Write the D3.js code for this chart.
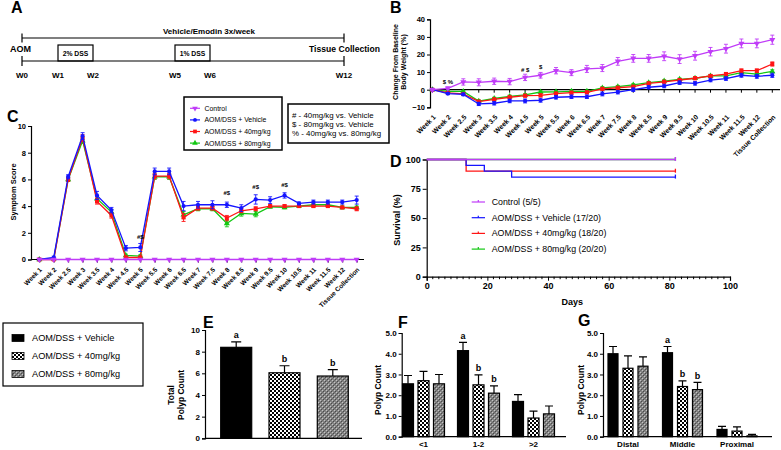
<!DOCTYPE html>
<html><head><meta charset="utf-8">
<script src="https://cdn.jsdelivr.net/npm/d3@7"></script>
<style>
body{margin:0;background:#fff;}
svg{display:block;font-family:"Liberation Sans",Arial,sans-serif;}
</style></head><body>
<svg id="fig" width="781" height="450"></svg>
<script>
// ---- data ----
const timelineWeeks = [0, 1, 2, 5, 6, 12];
const timelineLabels = ["W0", "W1", "W2", "W5", "W6", "W12"];
const dssStart = [1, 5], dssEnd = [2, 6], dssLabel = ["2% DSS", "1% DSS"];

const weeks = ["Week 1","Week 2","Week 2.5","Week 3","Week 3.5","Week 4","Week 4.5","Week 5","Week 5.5","Week 6","Week 6.5","Week 7","Week 7.5","Week 8","Week 8.5","Week 9","Week 9.5","Week 10","Week 10.5","Week 11","Week 11.5","Week 12","Tissue Collection"];
const groupNames = ["Control", "AOM/DSS + Vehicle", "AOM/DSS + 40mg/kg", "AOM/DSS + 80mg/kg"];

// body weight change (%)
const wtControl = [0,0.8,4.4,4.2,4.8,4.6,7.0,8.2,10.8,9.7,11.8,12.3,16.1,17.8,17.8,19.0,17.4,19.3,21.6,23.3,26.3,26.3,28.4];
const wtControlErr = [0.5,0.8,1.8,2.0,1.8,1.8,1.8,1.6,1.8,1.7,2.0,2.0,2.2,2.2,2.2,2.5,2.5,2.5,2.4,2.5,2.5,2.5,2.6];
const wtVehicle = [0,-2.2,-2.7,-8.1,-7.7,-6.4,-6.4,-6.0,-4.3,-4.0,-4.0,-2.4,-1.4,0.0,1.4,2.1,4.0,3.6,5.5,6.3,8.2,7.6,8.2];
const wtVehicleErr = [0,0.6,0.7,0.9,1.0,1.0,1.1,1.1,1.0,1.0,1.0,1.1,1.0,1.0,1.0,1.0,1.0,1.0,1.0,1.0,1.1,1.1,1.2];
const wt40 = [0,-1.8,-2.4,-6.8,-5.5,-4.3,-3.4,-3.2,-2.2,-1.7,-1.5,0.5,1.1,1.7,3.6,4.5,5.5,6.5,7.8,8.9,10.8,10.8,14.6];
const wt40Err = [0,0.5,0.6,0.8,0.8,0.8,0.8,0.9,0.8,0.8,0.8,0.8,0.8,0.8,0.8,0.8,0.8,0.8,0.9,0.9,1.0,1.0,1.2];
const wt80 = [0,-1.0,-1.0,-6.5,-5.0,-3.8,-3.0,-1.3,-1.2,-0.9,-0.9,1.0,1.7,2.7,4.0,4.9,5.9,6.5,7.8,7.8,9.7,8.9,10.4];
const wt80Err = [0,0.5,0.5,0.7,0.7,0.7,0.7,0.7,0.7,0.7,0.7,0.7,0.7,0.7,0.7,0.7,0.7,0.7,0.8,0.8,0.8,0.8,0.9];
const wtNotes = ["$ %", "# $", "$"];
const wtNoteWeek = ["Week 2", "Week 4.5", "Week 5"];
const wtNoteValue = [3.2, 10.3, 11.5];

// symptom score
const sxControl = [0,0,0,0,0,0,0,0,0,0,0,0,0,0,0,0,0,0,0,0,0,0,0];
const sxControlErr = [0,0,0,0,0,0,0,0,0,0,0,0,0,0,0,0,0,0,0,0,0,0,0];
const sxVehicle = [0,0.15,6.2,9.25,4.8,3.7,0.85,0.9,6.6,6.6,4.0,4.1,4.1,4.1,3.85,4.5,4.45,4.8,4.2,4.3,4.3,4.3,4.45];
const sxVehicleErr = [0,0.1,0.15,0.25,0.3,0.2,0.2,0.3,0.25,0.25,0.35,0.25,0.3,0.2,0.25,0.35,0.25,0.2,0.1,0.15,0.15,0.15,0.3];
const sx40 = [0,0,6.0,9.1,4.35,3.3,0.15,0.15,6.25,6.25,3.15,3.85,3.85,3.1,3.65,3.8,4.0,4.0,4.0,4.0,4.0,3.9,3.8];
const sx40Err = [0,0.05,0.15,0.25,0.2,0.2,0.1,0.1,0.2,0.2,0.3,0.15,0.15,0.2,0.15,0.15,0.1,0.1,0.1,0.1,0.1,0.1,0.15];
const sx80 = [0,0.05,6.0,8.9,4.55,3.55,0.3,0.25,6.2,6.2,3.35,3.8,3.8,2.7,3.45,3.4,3.95,3.9,4.0,4.1,4.1,3.9,3.9];
const sx80Err = [0,0.05,0.15,0.2,0.2,0.2,0.1,0.1,0.2,0.2,0.25,0.15,0.15,0.25,0.2,0.2,0.1,0.1,0.1,0.1,0.1,0.1,0.1];
const sxNoteWeek = ["Week 5", "Week 8", "Week 9", "Week 10"];
const sxNoteValue = [1.5, 4.8, 5.25, 5.4];
const statNotes = ["# - 40mg/kg vs. Vehicle", "$ - 80mg/kg vs. Vehicle", "% - 40mg/kg vs. 80mg/kg"];

// survival
const survLabels = ["Control (5/5)", "AOM/DSS + Vehicle (17/20)", "AOM/DSS + 40mg/kg (18/20)", "AOM/DSS + 80mg/kg (20/20)"];
const survDaysControl = [0, 82], survControl = [100, 100];
const survDaysVehicle = [0, 13, 19, 28, 82], survVehicle = [100, 95, 90, 85, 85];
const survDays40 = [0, 13, 82], surv40 = [100, 90, 90];
const survDays80 = [0, 82], surv80 = [100, 100];

// polyps
const polypGroups = ["AOM/DSS + Vehicle", "AOM/DSS + 40mg/kg", "AOM/DSS + 80mg/kg"];
const totalPolyp = [8.4, 6.05, 5.75];
const totalPolypErr = [0.5, 0.65, 0.6];
const totalLetters = ["a", "b", "b"];
const sizeCats = ["<1", "1-2", ">2"];
const sizeVehicle = [2.55, 4.15, 1.7], sizeVehicleErr = [0.4, 0.4, 0.33];
const size40 = [2.7, 2.5, 0.9], size40Err = [0.45, 0.48, 0.33];
const size80 = [2.55, 2.1, 1.1], size80Err = [0.45, 0.35, 0.38];
const sizeLetters = [["", "", ""], ["a", "b", "b"], ["", "", ""]];
const locCats = ["Distal", "Middle", "Proximal"];
const locVehicle = [4.0, 4.05, 0.35], locVehicleErr = [0.35, 0.3, 0.15];
const loc40 = [3.3, 2.42, 0.27], loc40Err = [0.6, 0.27, 0.2];
const loc80 = [3.4, 2.27, 0.04], loc80Err = [0.45, 0.35, 0.07];
const locLetters = [["", "", ""], ["a", "b", "b"], ["", "", ""]];

// ---- styles ----
const colors = ["#c03cf8", "#1515ff", "#ff1515", "#12c812"];
const symbols = [d3.symbolTriangle, d3.symbolCircle, d3.symbolSquare, d3.symbolTriangle];
const symRotate = [180, 0, 0, 0];
const barFills = ["#000", "url(#checker)", "url(#greydots)"];

const svg = d3.select("#fig");

// patterns
const defs = svg.append("defs");
const pc = defs.append("pattern").attr("id", "checker").attr("width", 4).attr("height", 4).attr("patternUnits", "userSpaceOnUse");
pc.append("rect").attr("width", 4).attr("height", 4).attr("fill", "#fff");
pc.append("rect").attr("width", 2).attr("height", 2).attr("fill", "#000");
pc.append("rect").attr("x", 2).attr("y", 2).attr("width", 2).attr("height", 2).attr("fill", "#000");
const pg = defs.append("pattern").attr("id", "greydots").attr("width", 4).attr("height", 4).attr("patternUnits", "userSpaceOnUse");
pg.append("rect").attr("width", 4).attr("height", 4).attr("fill", "#858585");
[[0,0,"#c4c4c4"],[2,2,"#c4c4c4"],[1,1,"#4a4a4a"],[3,3,"#4a4a4a"],[2,0,"#6a6a6a"],[0,2,"#6a6a6a"]].forEach(p =>
  pg.append("rect").attr("x", p[0]).attr("y", p[1]).attr("width", 1).attr("height", 1).attr("fill", p[2]));

function panelLetter(t, x, y) {
  svg.append("text").attr("x", x).attr("y", y).text(t)
    .attr("font-size", 16).attr("font-weight", "bold");
}
function styleAxis(g, size) {
  g.attr("font-family", null).attr("font-size", size).attr("font-weight", "bold");
  g.selectAll(".domain").attr("stroke-width", 1.2);
  g.selectAll(".tick line").attr("stroke-width", 1);
  return g;
}
function yLabel(lines, x, y, size) {
  lines.forEach((l, i) => {
    svg.append("text").attr("transform", `translate(${x + i * size * 1.15},${y}) rotate(-90)`)
      .attr("text-anchor", "middle").attr("font-size", size).attr("font-weight", "bold").text(l);
  });
}

// ---------------- Panel A ----------------
panelLetter("A", 11, 13);
const xA = d3.scaleLinear().domain(timelineWeeks).range([22, 58, 93, 175, 210, 344]);
const gA = svg.append("g").attr("stroke", "#000").attr("stroke-width", 1.2).attr("fill", "none");
gA.append("line").attr("x1", xA(0)).attr("x2", xA(12)).attr("y1", 61).attr("y2", 61);
gA.append("line").attr("x1", xA(0)).attr("x2", xA(12)).attr("y1", 38).attr("y2", 38);
[0, 12].forEach(w => {
  gA.append("line").attr("x1", xA(w)).attr("x2", xA(w)).attr("y1", 56).attr("y2", 66);
  gA.append("line").attr("x1", xA(w)).attr("x2", xA(w)).attr("y1", 33.5).attr("y2", 42.5);
});
dssStart.forEach((s, i) => {
  gA.append("rect").attr("x", xA(s)).attr("y", 45).attr("width", xA(dssEnd[i]) - xA(s)).attr("height", 16);
  svg.append("text").attr("x", (xA(s) + xA(dssEnd[i])) / 2).attr("y", 55.5).attr("text-anchor", "middle")
    .attr("font-size", 6.8).attr("font-weight", "bold").text(dssLabel[i]);
});
timelineWeeks.forEach((w, i) => {
  svg.append("text").attr("x", xA(w)).attr("y", 78).attr("text-anchor", "middle")
    .attr("font-size", 8).attr("font-weight", "bold").text(timelineLabels[i]);
});
svg.append("text").attr("x", 209).attr("y", 34).attr("text-anchor", "middle").attr("font-size", 8).attr("font-weight", "bold").text("Vehicle/Emodin 3x/week");
svg.append("text").attr("x", 10).attr("y", 52).attr("font-size", 9).attr("font-weight", "bold").text("AOM");
svg.append("text").attr("x", 380).attr("y", 52).attr("text-anchor", "end").attr("font-size", 8.6).attr("font-weight", "bold").text("Tissue Collection");

// ---------------- line helpers ----------------
function drawSeries(g, x, y, series, errW) {
  series.forEach(s => {
    const pts = s.vals.map((v, i) => ({ x: x(weeks[i]), v: v, e: s.errs[i] }));
    g.append("g").selectAll("path").data(pts.filter(d => d.e > 0)).join("path")
      .attr("d", d => {
        const y1 = y(d.v + d.e), y2 = y(d.v - d.e);
        return `M${d.x},${y1}V${y2}M${d.x - errW},${y1}h${2 * errW}M${d.x - errW},${y2}h${2 * errW}`;
      })
      .attr("stroke", s.color).attr("stroke-width", 0.9).attr("fill", "none");
    g.append("path").datum(pts)
      .attr("d", d3.line().x(d => d.x).y(d => y(d.v)))
      .attr("stroke", s.color).attr("stroke-width", 1.3).attr("fill", "none");
    g.append("g").selectAll("path").data(pts).join("path")
      .attr("transform", d => `translate(${d.x},${y(d.v)}) rotate(${s.rot})`)
      .attr("d", d3.symbol().type(s.sym).size(s.size))
      .attr("fill", s.color);
  });
}
function makeSeries(vals, errs) {
  // drawing order: 80, 40, vehicle, control
  return [3, 2, 1, 0].map(k => ({
    vals: vals[k], errs: errs[k], color: colors[k], sym: symbols[k], rot: symRotate[k],
    size: k === 1 ? 14 : 16
  }));
}

// ---------------- Panel B ----------------
panelLetter("B", 390, 13);
const xB = d3.scalePoint().domain(weeks).range([432.4, 772.3]);
const yB = d3.scaleLinear().domain([-10, 40]).range([107.3, 19.3]);
styleAxis(svg.append("g").attr("transform", "translate(430,0)")
  .call(d3.axisLeft(yB).tickValues([-10, 0, 10, 20, 30, 40]).tickSize(3).tickPadding(2)), 7.5);
const gBx = svg.append("g");
gBx.append("line").attr("x1", 430).attr("x2", 780).attr("y1", yB(0)).attr("y2", yB(0)).attr("stroke", "#000").attr("stroke-width", 1.2);
gBx.selectAll("line.t").data(weeks).join("line").attr("class", "t")
  .attr("x1", d => xB(d)).attr("x2", d => xB(d)).attr("y1", yB(0)).attr("y2", yB(0) + 3)
  .attr("stroke", "#000");
gBx.selectAll("text").data(weeks).join("text")
  .attr("transform", d => `translate(${xB(d) + 2},116) rotate(-45)`)
  .attr("text-anchor", "end").attr("dy", "0.35em").attr("font-size", 6.8).attr("font-weight", "bold").text(d => d);
drawSeries(svg.append("g"), xB, yB,
  makeSeries([wtControl, wtVehicle, wt40, wt80], [wtControlErr, wtVehicleErr, wt40Err, wt80Err]), 2);
wtNotes.forEach((n, i) => {
  svg.append("text").attr("x", xB(wtNoteWeek[i])).attr("y", yB(wtNoteValue[i])).attr("text-anchor", "middle")
    .attr("font-size", 6).attr("font-weight", "bold").text(n);
});
yLabel(["Change From Baseline", "Body Weight (%)"], 398, 62, 7);

// ---------------- Panel C ----------------
panelLetter("C", 7, 122);
const xC = d3.scalePoint().domain(weeks).range([39.3, 356.7]);
const yC = d3.scaleLinear().domain([0, 10]).range([259.5, 126]);
styleAxis(svg.append("g").attr("transform", "translate(31,0)")
  .call(d3.axisLeft(yC).tickValues([0, 2, 4, 6, 8, 10]).tickSize(3).tickPadding(2)), 7.5);
const gCx = styleAxis(svg.append("g").attr("transform", `translate(0,${yC(0)})`)
  .call(d3.axisBottom(xC).tickSize(3)), 6.5);
gCx.select(".domain").attr("d", "M31,0H364");
gCx.selectAll(".tick text").attr("y", 0).attr("dy", "0.35em").attr("text-anchor", "end")
  .attr("transform", "translate(1,9) rotate(-45)");
drawSeries(svg.append("g"), xC, yC,
  makeSeries([sxControl, sxVehicle, sx40, sx80], [sxControlErr, sxVehicleErr, sx40Err, sx80Err]), 2);
sxNoteWeek.forEach((w, i) => {
  svg.append("text").attr("x", xC(w)).attr("y", yC(sxNoteValue[i])).attr("text-anchor", "middle")
    .attr("font-size", 6).attr("font-weight", "bold").text("#$");
});
yLabel(["Symptom Score"], 15.5, 192, 7.5);

// legend C
svg.append("rect").attr("x", 184).attr("y", 97).attr("width", 98).attr("height", 53)
  .attr("fill", "#fff").attr("stroke", "#000").attr("stroke-width", 1.5);
groupNames.forEach((n, k) => {
  const yy = 108.3 + k * 11.6;
  svg.append("line").attr("x1", 190).attr("x2", 200).attr("y1", yy).attr("y2", yy).attr("stroke", colors[k]).attr("stroke-width", 1.2);
  svg.append("path").attr("transform", `translate(195,${yy}) rotate(${symRotate[k]})`)
    .attr("d", d3.symbol().type(symbols[k]).size(k === 1 ? 12 : 14)).attr("fill", colors[k]);
  svg.append("text").attr("x", 204.5).attr("y", yy).attr("dy", "0.35em").attr("font-size", 6.9).text(n);
});
svg.append("rect").attr("x", 288).attr("y", 104).attr("width", 101).attr("height", 39)
  .attr("fill", "#fff").attr("stroke", "#000").attr("stroke-width", 1.5);
statNotes.forEach((n, i) => {
  svg.append("text").attr("x", 292).attr("y", 115.5 + i * 8.7).attr("dy", "0.35em").attr("font-size", 7.9).text(n);
});

// ---------------- Panel D ----------------
panelLetter("D", 390, 167);
const xD = d3.scaleLinear().domain([0, 100]).range([426.7, 730]);
const yD = d3.scaleLinear().domain([0, 100]).range([276.7, 159.5]);
styleAxis(svg.append("g").attr("transform", "translate(426.7,0)")
  .call(d3.axisLeft(yD).tickValues([0, 25, 50, 75, 100]).tickSize(4).tickPadding(2)), 9);
const gDx = styleAxis(svg.append("g").attr("transform", `translate(0,${yD(0)})`)
  .call(d3.axisBottom(xD).tickValues(d3.range(0, 101, 20)).tickSize(4).tickPadding(2)), 9);
gDx.selectAll("line.minor").data(d3.range(2, 100, 2).filter(d => d % 20 !== 0)).join("line").attr("class", "minor")
  .attr("x1", d => xD(d)).attr("x2", d => xD(d)).attr("y1", 0).attr("y2", 2.5).attr("stroke", "#000");
svg.append("text").attr("x", xD(48)).attr("y", 305).attr("text-anchor", "middle").attr("font-size", 9).attr("font-weight", "bold").text("Days");
yLabel(["Survival (%)"], 400, 220, 9);
const survDays = [survDaysControl, survDaysVehicle, survDays40, survDays80];
const survVals = [survControl, survVehicle, surv40, surv80];
const survLine = d3.line().curve(d3.curveStepAfter).x(d => xD(d[0])).y(d => yD(d[1]));
[3, 2, 1, 0].forEach(k => {
  const pts = survDays[k].map((d, i) => [d, survVals[k][i]]);
  svg.append("path").datum(pts).attr("d", survLine).attr("fill", "none").attr("stroke", colors[k]).attr("stroke-width", 1.3);
  const last = pts[pts.length - 1];
  svg.append("line").attr("x1", xD(last[0])).attr("x2", xD(last[0])).attr("y1", yD(last[1]) - 2.5).attr("y2", yD(last[1]) + 1.5)
    .attr("stroke", colors[k]).attr("stroke-width", 1.3);
});
survLabels.forEach((n, k) => {
  const yy = 202 + k * 15.7;
  svg.append("line").attr("x1", 471.7).attr("x2", 485).attr("y1", yy).attr("y2", yy).attr("stroke", colors[k]).attr("stroke-width", 1.2);
  svg.append("line").attr("x1", 478.3).attr("x2", 478.3).attr("y1", yy - 2).attr("y2", yy).attr("stroke", colors[k]).attr("stroke-width", 1.2);
  svg.append("text").attr("x", 491.7).attr("y", yy).attr("dy", "0.35em").attr("font-size", 8.8).text(n);
});

// ---------------- bottom legend ----------------
svg.append("rect").attr("x", 3).attr("y", 323).attr("width", 140).attr("height", 63)
  .attr("fill", "#fff").attr("stroke", "#000").attr("stroke-width", 1.2);
polypGroups.forEach((n, k) => {
  const yy = 338 + k * 18;
  svg.append("rect").attr("x", 12).attr("y", yy - 3.5).attr("width", 12).attr("height", 7)
    .attr("fill", barFills[k]).attr("stroke", "#000").attr("stroke-width", 0.8);
  svg.append("text").attr("x", 32).attr("y", yy).attr("dy", "0.35em").attr("font-size", 9.2).text(n);
});

// ---------------- bar helpers ----------------
function drawBar(g, x, w, y, v, e, fill, capW, letter) {
  g.append("rect").attr("x", x).attr("y", y(v)).attr("width", w).attr("height", y(0) - y(v))
    .attr("fill", fill).attr("stroke", "#000").attr("stroke-width", 1.2);
  const cx = x + w / 2;
  g.append("path").attr("d", `M${cx},${y(v)}V${y(v + e)}M${cx - capW / 2},${y(v + e)}h${capW}`)
    .attr("stroke", "#000").attr("stroke-width", 1.2).attr("fill", "none");
  if (letter) {
    g.append("text").attr("x", cx).attr("y", y(v + e) - 3.5).attr("text-anchor", "middle")
      .attr("font-size", 9).attr("font-weight", "bold").text(letter);
  }
}

// ---------------- Panel E ----------------
panelLetter("E", 203, 328);
const yE = d3.scaleLinear().domain([0, 10]).range([438.3, 330]);
const xE = d3.scaleBand().domain(polypGroups).range([220.7, 348.3]).paddingInner(0.358).paddingOuter(0);
styleAxis(svg.append("g").attr("transform", "translate(205,0)")
  .call(d3.axisLeft(yE).tickValues([0, 2, 4, 6, 8, 10]).tickSize(3).tickPadding(2)), 8);
svg.append("line").attr("x1", 205).attr("x2", 362).attr("y1", yE(0)).attr("y2", yE(0)).attr("stroke", "#000").attr("stroke-width", 1.2);
const gE = svg.append("g");
polypGroups.forEach((p, k) => drawBar(gE, xE(p), xE.bandwidth(), yE, totalPolyp[k], totalPolypErr[k], barFills[k], 10, totalLetters[k]));
yLabel(["Total", "Polyp Count"], 174, 395, 8.5);

// ---------------- Panels F, G ----------------
function groupedBars(cats, vals, errs, letters, yAxisX, xEnd, rangeX, inner, pad) {
  const y = d3.scaleLinear().domain([0, 5]).range([436.7, 333]);
  const x0 = d3.scaleBand().domain(cats).range(rangeX).paddingInner(0).paddingOuter(0);
  const x1 = d3.scaleBand().domain(polypGroups).range(inner).paddingInner(pad).paddingOuter(0);
  styleAxis(svg.append("g").attr("transform", `translate(${yAxisX},0)`)
    .call(d3.axisLeft(y).tickValues([0, 1, 2, 3, 4, 5]).tickSize(3).tickPadding(2)), 8);
  const gx = styleAxis(svg.append("g").attr("transform", `translate(0,${y(0)})`)
    .call(d3.axisBottom(x0).tickSize(0).tickPadding(5)), 8);
  gx.select(".domain").attr("d", `M${yAxisX},0H${xEnd}`);
  const g = svg.append("g");
  cats.forEach((c, ci) => {
    polypGroups.forEach((p, k) => {
      const cx = x0(c) + x0.bandwidth() / 2 + x1(p);
      drawBar(g, cx, x1.bandwidth(), y, vals[k][ci], errs[k][ci], barFills[k], 8, letters[ci][k]);
    });
  });
}
panelLetter("F", 398, 328);
groupedBars(sizeCats, [sizeVehicle, size40, size80], [sizeVehicleErr, size40Err, size80Err], sizeLetters,
  401.7, 566, [396, 561], [-21, 21], 0.29);
yLabel(["Polyp Count"], 381, 390, 8.5);

panelLetter("G", 578, 326);
groupedBars(locCats, [locVehicle, loc40, loc80], [locVehicleErr, loc40Err, loc80Err], locLetters,
  603, 772, [600.75, 764.25], [-20, 20], 0.333);
yLabel(["Polyp Count"], 584, 390, 8.5);
</script></body></html>
